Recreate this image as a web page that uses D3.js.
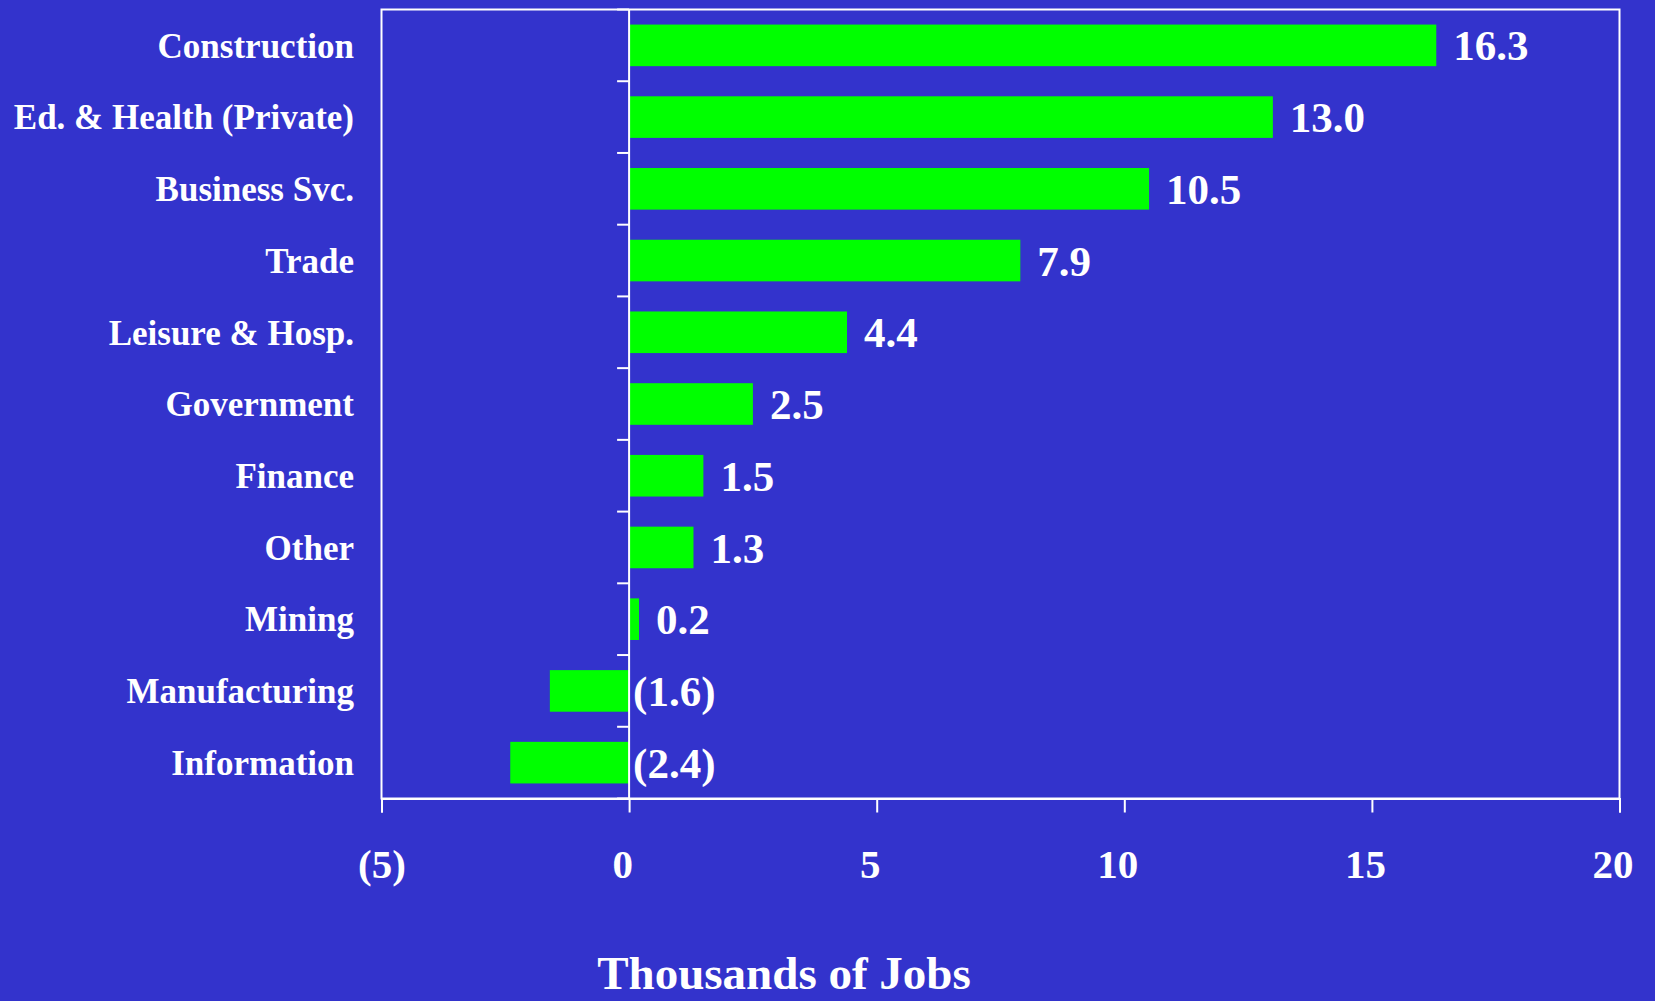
<!DOCTYPE html>
<html>
<head>
<meta charset="utf-8">
<script src="https://cdn.jsdelivr.net/npm/d3@7"></script>
<style>
  html, body { margin: 0; padding: 0; background: #3333CC; }
  svg { display: block; }
  text { font-family: "Times New Roman", "Liberation Serif", serif; font-weight: bold; fill: #ffffff; }
</style>
</head>
<body>
<svg id="chart" width="1655" height="1001"></svg>
<script>
const categories = ["Construction", "Ed. & Health (Private)", "Business Svc.", "Trade",
  "Leisure & Hosp.", "Government", "Finance", "Other", "Mining", "Manufacturing", "Information"];
const values = [16.3, 13.0, 10.5, 7.9, 4.4, 2.5, 1.5, 1.3, 0.2, -1.6, -2.4];
const xTicks = [-5, 0, 5, 10, 15, 20];
const xTitle = "Thousands of Jobs";

const W = 1655, H = 1001;
const plot = { left: 381.5, right: 1619.5, top: 9.5, bottom: 798.5 };

const svg = d3.select("#chart");
svg.append("rect").attr("width", W).attr("height", H).attr("fill", "#3333CC");

const x = d3.scaleLinear().domain([-5, 20]).range([plot.left, plot.right]);
const y = d3.scaleBand().domain(categories).range([plot.top, plot.bottom])
  .paddingInner(0.42).paddingOuter(0.21);

const fmt = v => v < 0 ? "(" + Math.abs(v).toFixed(1) + ")" : v.toFixed(1);
const tickFmt = v => v < 0 ? "(" + Math.abs(v) + ")" : String(v);

// bars
svg.append("g").selectAll("rect").data(values).join("rect")
  .attr("x", (d) => x(Math.min(0, d)))
  .attr("y", (d, i) => y(categories[i]))
  .attr("width", d => Math.abs(x(d) - x(0)))
  .attr("height", y.bandwidth())
  .attr("fill", "#00FF00");

// frame
svg.append("rect")
  .attr("x", plot.left).attr("y", plot.top)
  .attr("width", plot.right - plot.left).attr("height", plot.bottom - plot.top)
  .attr("fill", "none").attr("stroke", "#ffffff").attr("stroke-width", 2);

// x axis ticks
const xAxis = d3.axisBottom(x).tickValues(xTicks).tickSize(14).tickFormat(tickFmt);
const gx = svg.append("g").attr("transform", `translate(0,${plot.bottom})`).call(xAxis);
gx.select(".domain").attr("stroke", "#ffffff").attr("stroke-width", 2);
gx.selectAll(".tick line").attr("stroke", "#ffffff").attr("stroke-width", 2);
gx.selectAll(".tick text")
  .attr("fill", "#ffffff")
  .style("font-size", "41px")
  .attr("y", 0).attr("dy", 0)
  .attr("transform", "translate(0,79)")
  .attr("dx", d => d >= 0 ? "-0.17em" : "0");

// y axis at zero
const boundaries = categories.map(c => y(c) - y.step() * y.paddingInner() / 2);
boundaries.push(plot.bottom);
const gy = svg.append("g");
gy.append("line")
  .attr("x1", x(0)).attr("x2", x(0))
  .attr("y1", plot.top).attr("y2", plot.bottom)
  .attr("stroke", "#ffffff").attr("stroke-width", 2);
gy.selectAll("line.tk").data(boundaries).join("line").attr("class", "tk")
  .attr("x1", x(0) - 12).attr("x2", x(0))
  .attr("y1", d => d).attr("y2", d => d)
  .attr("stroke", "#ffffff").attr("stroke-width", 2);

// category labels
svg.append("g").selectAll("text").data(categories).join("text")
  .attr("x", 354)
  .attr("y", d => y(d) + y.bandwidth() / 2)
  .attr("dy", "0.35em")
  .attr("text-anchor", "end")
  .style("font-size", "35px")
  .text(d => d);

// value labels
svg.append("g").selectAll("text").data(values).join("text")
  .attr("x", d => d >= 0 ? x(d) + 17 : x(0) + 4)
  .attr("y", (d, i) => y(categories[i]) + y.bandwidth() / 2)
  .attr("dy", "0.35em")
  .attr("text-anchor", "start")
  .style("font-size", "43px")
  .text(fmt);

// axis title
svg.append("text")
  .attr("x", 784).attr("y", 989)
  .attr("text-anchor", "middle")
  .style("font-size", "47px")
  .text(xTitle);
</script>
</body>
</html>
